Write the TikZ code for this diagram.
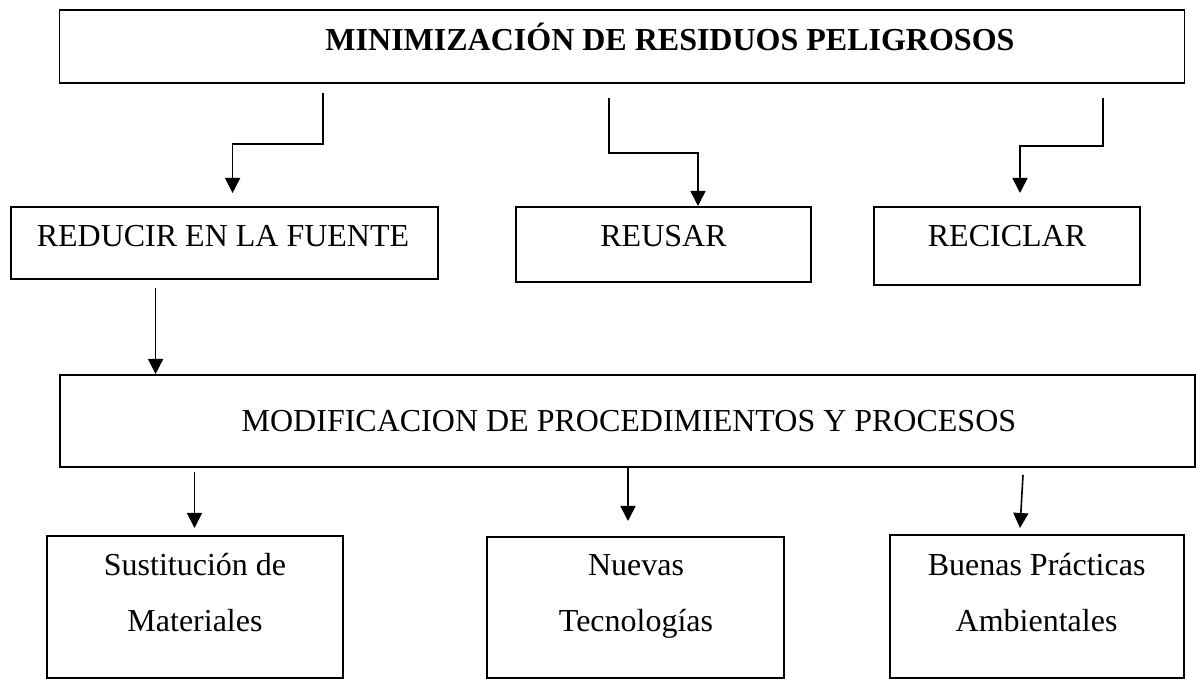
\documentclass[tikz,border=0pt]{standalone}
\usepackage{fontspec}
\setmainfont{Liberation Serif}
\usetikzlibrary{arrows.meta}

\begin{document}
\begin{tikzpicture}[x=0.5pt,y=-0.5pt,
  caja/.style={draw,line width=0.9pt,inner sep=0pt},
  texto/.style={anchor=base,inner sep=0pt,align=center,font=\fontsize{16}{28}\selectfont},
  flecha/.style={line width=0.8pt,-{Triangle[length=7.5pt,width=7.5pt]}}]
\useasboundingbox (0,0) rectangle (1196,679);
\node[caja,minimum width=562.5pt,minimum height=36.5pt] (minim) at (622,46.5) {};
\node[texto,font=\fontsize{16}{28}\selectfont\bfseries] (tminim) at (670,51) {MINIMIZACIÓN DE RESIDUOS PELIGROSOS};
\node[caja,minimum width=213.6pt,minimum height=36pt] (reducir) at (224.4,243) {};
\node[texto] (treducir) at (223,247) {REDUCIR EN LA FUENTE};
\node[caja,minimum width=147.7pt,minimum height=37.5pt] (reusar) at (663.3,244.5) {};
\node[texto] (treusar) at (663.5,247) {REUSAR};
\node[caja,minimum width=133pt,minimum height=39pt] (reciclar) at (1007,246) {};
\node[texto] (treciclar) at (1007,247) {RECICLAR};
\node[caja,minimum width=567.7pt,minimum height=46pt] (modif) at (627.3,421) {};
\node[texto] (tmodif) at (629,432) {MODIFICACION DE PROCEDIMIENTOS Y PROCESOS};
\node[caja,minimum width=148pt,minimum height=71pt] (sust) at (195,607) {};
\node[texto] (tsust) at (195,632) {Sustitución de\\Materiales};
\node[caja,minimum width=148.5pt,minimum height=70.5pt] (nuevas) at (635.5,607.5) {};
\node[texto] (tnuevas) at (636,632) {Nuevas\\Tecnologías};
\node[caja,minimum width=147pt,minimum height=71.5pt] (buenas) at (1037,606.5) {};
\node[texto] (tbuenas) at (1036.6,632) {Buenas Prácticas\\Ambientales};
\coordinate (s1) at (323,93);
\coordinate (s2) at (608.7,98);
\coordinate (s3) at (1103,98);
\coordinate (s4) at (155.6,288);
\coordinate (s5) at (194.5,472);
\coordinate (s6) at (628,467);
\coordinate (s7) at (1023,475);
\draw[flecha] (s1) |- (232.6,144) -- (232.6,193);
\draw[flecha] (s2) |- (698,153) -- (698,206);
\draw[flecha] (s3) |- (1020,146) -- (1020,193);
\draw[flecha] (s4) -- (155.6,374);
\draw[flecha] (s5) -- (194.5,528);
\draw[flecha] (s6) -- (628,521);
\draw[flecha] (s7) -- (1020,528);
\end{tikzpicture}
\end{document}
